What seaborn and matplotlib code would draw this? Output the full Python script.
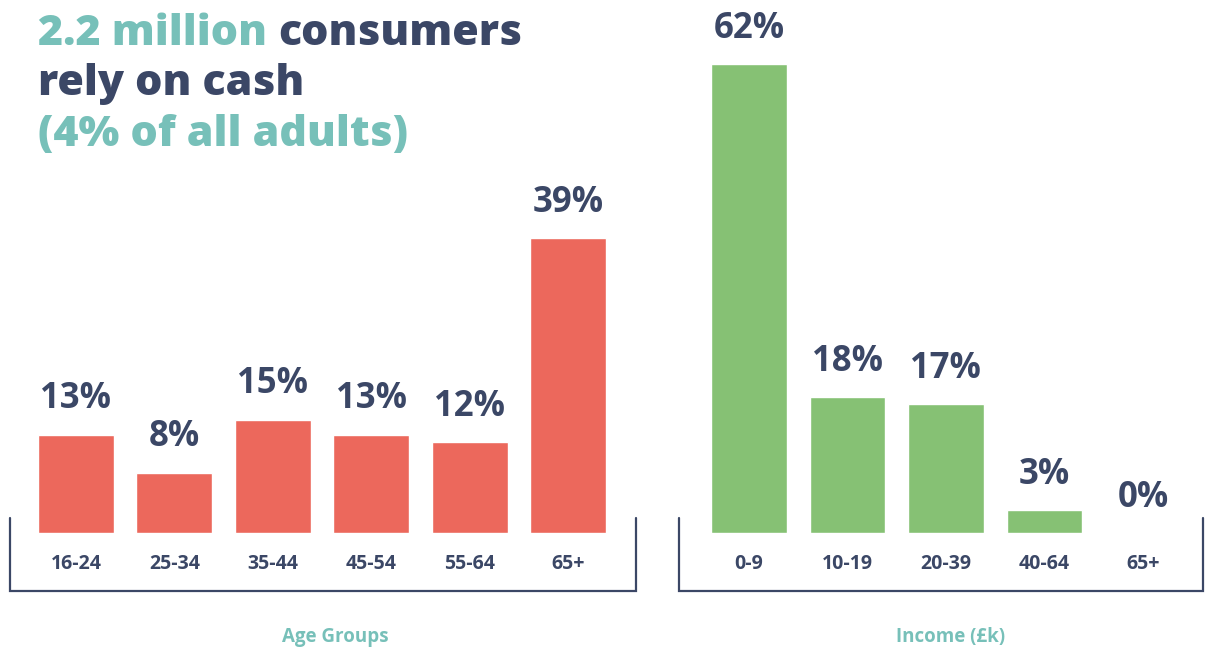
import matplotlib
matplotlib.use("Agg")
from matplotlib import pyplot as plt
import seaborn as sns
import pandas as pd

age_groups = ["16-24", "25-34", "35-44", "45-54", "55-64", "65+"]
age_share = [13, 8, 15, 13, 12, 39]
income_bands = ["0-9", "10-19", "20-39", "40-64", "65+"]
income_share = [62, 18, 17, 3, 0]

TEAL = "#77c0b9"
NAVY = "#3b4766"
RED = "#ec685c"
GREEN = "#86c174"

sns.set_theme(style="white")
plt.rcParams["font.family"] = ["Open Sans", "DejaVu Sans"]

W, H = 1205, 652
fig = plt.figure(figsize=(W / 100, H / 100), dpi=100)

base_px = 533
top_px = 20
px_per_unit = 7.56
ymax = (base_px - top_px) / px_per_unit


def panel(x0_px, x1_px, cats, vals, color, xlim, xlabel, xlabel_px):
    ax = fig.add_axes([x0_px / W, (H - base_px) / H,
                       (x1_px - x0_px) / W, (base_px - top_px) / H])
    df = pd.DataFrame({"cat": cats, "val": vals})
    sns.barplot(data=df, x="cat", y="val", color=color, width=0.77,
                saturation=1, ax=ax)
    ax.set_xlim(*xlim)
    ax.set_ylim(0, ymax)
    sns.despine(ax=ax, left=True, bottom=True)
    ax.set_yticks([])
    ax.set_xlabel("")
    ax.set_ylabel("")
    ax.tick_params(axis="x", length=0, pad=15)
    for lab in ax.get_xticklabels():
        lab.set_fontsize(14)
        lab.set_fontweight("bold")
        lab.set_color(NAVY)
    for i, v in enumerate(vals):
        ax.annotate(f"{v}%", (i, v), xytext=(0, 19), textcoords="offset points",
                    ha="center", va="baseline", fontsize=25, fontweight="bold",
                    color=NAVY)
    # bracket under the bars
    top = 2
    bot = -(591 - base_px) / px_per_unit
    ax.plot([xlim[0], xlim[0], xlim[1], xlim[1]], [top, bot, bot, top],
            color=NAVY, lw=1.6, clip_on=False, solid_joinstyle="miter")
    fig.text(xlabel_px / W, 1 - 637 / H, xlabel, ha="center", va="center",
             fontsize=13.5, fontweight="bold", color=TEAL)
    return ax


panel(10, 636, age_groups, age_share, RED, (-0.67, 5.69), "Age Groups", 335)
panel(679, 1203, income_bands, income_share, GREEN, (-0.71, 4.61),
      "Income (£k)", 951)

# title with mixed colours
title_size = 31
t1 = fig.text(38 / W, 1 - 45 / H, "2.2 million ", fontsize=title_size,
              fontweight="heavy", color=TEAL, va="baseline")
fig.canvas.draw()
bb = t1.get_window_extent()
fig.text(bb.x1 / W, 1 - 45 / H, "consumers", fontsize=title_size,
         fontweight="heavy", color=NAVY, va="baseline")
fig.text(38 / W, 1 - 95 / H, "rely on cash", fontsize=title_size,
         fontweight="heavy", color=NAVY, va="baseline")
fig.text(38 / W, 1 - 146 / H, "(4% of all adults)", fontsize=title_size,
         fontweight="heavy", color=TEAL, va="baseline")

fig.savefig("out.png", dpi=100, facecolor="white")
